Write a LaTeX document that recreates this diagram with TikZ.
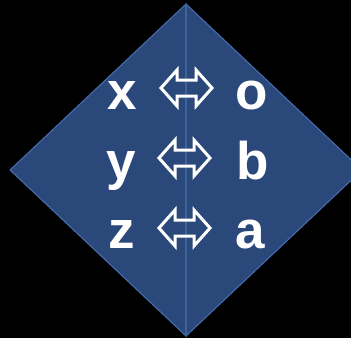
\documentclass[tikz,border=0pt]{standalone}
\usepackage{fontspec}
\setmainfont{Liberation Sans}
\definecolor{dfill}{RGB}{43,72,122}
\definecolor{dedge}{RGB}{72,112,180}
\definecolor{dmid}{RGB}{62,98,155}
\begin{document}
\begin{tikzpicture}[x=1pt,y=-1pt,
  letter/.style={text=white,font=\fontsize{53}{53}\selectfont\bfseries,anchor=base,inner sep=0pt},
  dblarrow/.style={draw=white,line width=3pt,line join=miter}]
\fill[black] (0,0) rectangle (351,338);
\useasboundingbox (0,0) rectangle (351,338);
\coordinate (T) at (186,4);
\coordinate (L) at (10,170);
\coordinate (B) at (186,336);
\coordinate (R) at (362,170);
\filldraw[fill=dfill,draw=dedge,line width=1pt] (T) -- (L) -- (B) -- cycle;
\filldraw[fill=dfill,draw=dedge,line width=1pt] (T) -- (R) -- (B) -- cycle;
\draw[dmid,line width=1.2pt] (T) -- (B);
\node[letter] (x) at (122.5,109) {x};
\node[letter] (y) at (121,179) {y};
\node[letter] (z) at (122,248) {z};
\node[letter] (o) at (252,109) {o};
\node[letter] (b) at (253,179) {b};
\node[letter] (a) at (250,248) {a};
\foreach \cy/\sx in {88/161,158/159,228/159}{
  \draw[dblarrow] (\sx,\cy) -- (\sx+16,\cy-18) -- (\sx+16,\cy-8) -- (\sx+35,\cy-8) -- (\sx+35,\cy-18)
   -- (\sx+51,\cy) -- (\sx+35,\cy+18) -- (\sx+35,\cy+8) -- (\sx+16,\cy+8) -- (\sx+16,\cy+18) -- cycle;
}
\end{tikzpicture}
\end{document}
